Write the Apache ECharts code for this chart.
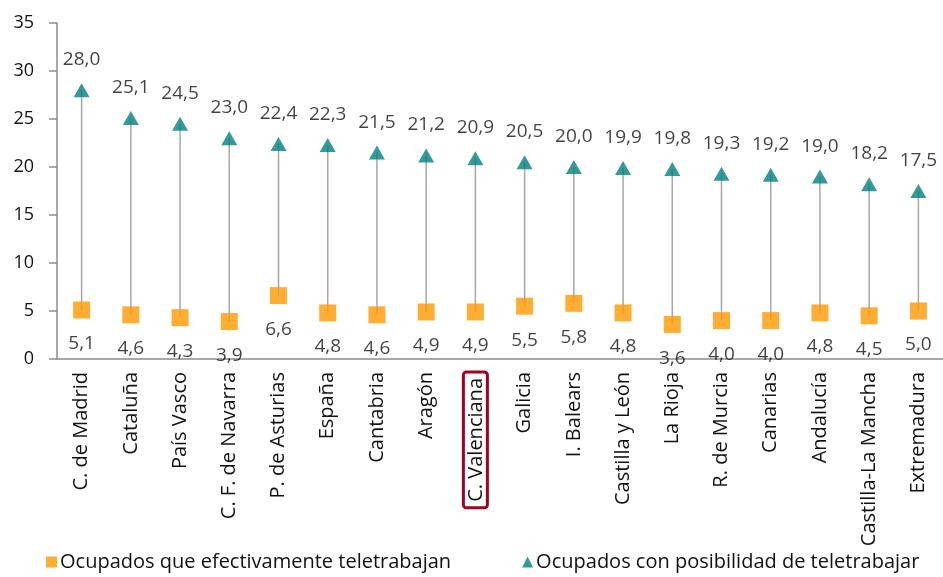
<!DOCTYPE html>
<html>
<head>
<meta charset="utf-8">
<script src="https://cdn.jsdelivr.net/npm/echarts@6/dist/echarts.min.js"></script>
<style>
  html, body { margin: 0; padding: 0; background: #fff; }
  #chart { width: 943px; height: 577px; }
</style>
</head>
<body>
<div id="chart"></div>
<script>
// categorías (comunidades)
var regiones = ['C. de Madrid', 'Cataluña', 'País Vasco', 'C. F. de Navarra', 'P. de Asturias', 'España',
  'Cantabria', 'Aragón', 'C. Valenciana', 'Galicia', 'I. Balears', 'Castilla y León', 'La Rioja',
  'R. de Murcia', 'Canarias', 'Andalucía', 'Castilla-La Mancha', 'Extremadura'];

// Ocupados con posibilidad de teletrabajar
var posibilidad = [28.0, 25.1, 24.5, 23.0, 22.4, 22.3, 21.5, 21.2, 20.9, 20.5, 20.0, 19.9, 19.8, 19.3, 19.2, 19.0, 18.2, 17.5];

// Ocupados que efectivamente teletrabajan
var efectivo = [5.1, 4.6, 4.3, 3.9, 6.6, 4.8, 4.6, 4.9, 4.9, 5.5, 5.8, 4.8, 3.6, 4.0, 4.0, 4.8, 4.5, 5.0];

var destacada = 'C. Valenciana';
var fuente = 'Open Sans';
var texto = '#111';

var chart = echarts.init(document.getElementById('chart'));

function coma(v) {
  return v.toFixed(1).replace('.', ',');
}

// pares [indice, bajo, alto] para las lineas verticales
var tramos = regiones.map(function (r, i) {
  return [i, efectivo[i], posibilidad[i]];
});

var option = {
  animation: false,
  textStyle: { fontFamily: fuente },
  grid: { left: 57, top: 23, bottom: 218, width: 891 },
  legend: {
    left: 41,
    bottom: 0,
    itemGap: 71,
    itemWidth: 11,
    itemHeight: 11,
    textStyle: { fontSize: 20, color: texto, fontFamily: fuente, padding: [0, 0, 0, -2] },
    data: [
      { name: 'Ocupados que efectivamente teletrabajan', icon: 'rect' },
      { name: 'Ocupados con posibilidad de teletrabajar', icon: 'triangle' }
    ]
  },
  xAxis: {
    type: 'category',
    data: regiones,
    axisLine: { lineStyle: { color: '#8c8c8c', width: 1.5 } },
    axisTick: { length: 6, lineStyle: { color: '#8c8c8c', width: 1.5 } },
    axisLabel: {
      rotate: 90,
      interval: 0,
      margin: 13,
      fontSize: 20,
      color: texto,
      formatter: function (v) {
        return v === destacada ? '{caja|' + v + '}' : v;
      },
      rich: {
        caja: {
          fontSize: 20,
          color: texto,
          borderColor: '#a50021',
          borderWidth: 3,
          borderRadius: 3,
          padding: [3, 6, 1, 6]
        }
      }
    }
  },
  yAxis: {
    type: 'value',
    min: 0,
    max: 35,
    interval: 5,
    splitLine: { show: false },
    axisLine: { show: true, lineStyle: { color: '#8c8c8c', width: 1.5 } },
    axisTick: { show: true, length: 8, lineStyle: { color: '#8c8c8c', width: 1.5 } },
    axisLabel: { fontSize: 18, color: texto, margin: 23 }
  },
  series: [
    {
      // lineas grises entre los dos valores
      type: 'custom',
      name: 'tramo',
      z: 1,
      data: tramos,
      encode: { x: 0, y: [1, 2] },
      renderItem: function (params, api) {
        var p1 = api.coord([api.value(0), api.value(1)]);
        var p2 = api.coord([api.value(0), api.value(2)]);
        return {
          type: 'line',
          shape: { x1: p1[0], y1: p1[1], x2: p2[0], y2: p2[1] },
          style: { stroke: '#a6a6a6', lineWidth: 1.5 }
        };
      },
      silent: true
    },
    {
      type: 'scatter',
      name: 'Ocupados que efectivamente teletrabajan',
      z: 3,
      data: efectivo,
      symbol: 'rect',
      symbolSize: 17,
      itemStyle: { color: '#ff9900' },
      label: {
        show: true,
        position: 'bottom',
        distance: 16,
        fontSize: 19,
        color: texto,
        formatter: function (p) { return coma(p.value); }
      }
    },
    {
      type: 'scatter',
      name: 'Ocupados con posibilidad de teletrabajar',
      z: 3,
      data: posibilidad,
      symbol: 'triangle',
      symbolSize: [16, 14],
      itemStyle: { color: '#00807f' },
      label: {
        show: true,
        position: 'top',
        distance: 14,
        fontSize: 19,
        color: texto,
        formatter: function (p) { return coma(p.value); }
      }
    }
  ]
};

chart.setOption(option);
</script>
</body>
</html>
